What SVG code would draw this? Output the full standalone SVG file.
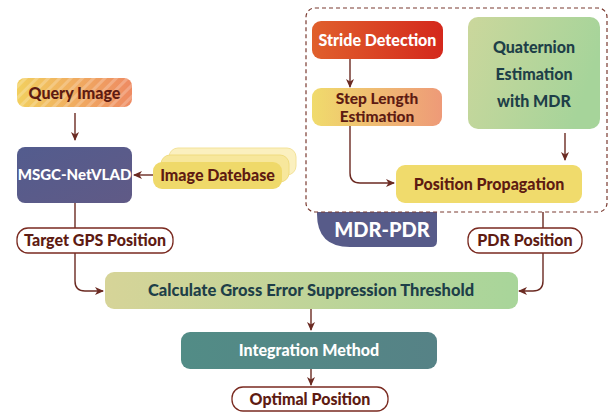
<svg xmlns="http://www.w3.org/2000/svg" width="609" height="414" viewBox="0 0 609 414">
<defs>
<style>
.t{font-family:Lato,"Liberation Sans",sans-serif;font-weight:900;text-anchor:middle;dominant-baseline:central}
.dr{fill:#5e1b12}
.wh{fill:#ffffff}
.tl{fill:#1e3f48}
.lbl{fill:#ffffff;stroke:#7a2a20;stroke-width:1.3}
.con{fill:none;stroke:#6b2a22;stroke-width:1.4;marker-end:url(#ah)}
.ln{fill:none;stroke:#6b2a22;stroke-width:1.4}
</style>
<marker id="ah" markerWidth="10" markerHeight="10" refX="8" refY="5" orient="auto" markerUnits="userSpaceOnUse">
<path d="M0,1 L9,5 L0,9 L2.5,5 z" fill="#6b2a22"/>
</marker>
<linearGradient id="gQuery" x1="0" y1="0" x2="1" y2="0">
<stop offset="0" stop-color="#f2cf5e"/><stop offset="1" stop-color="#ee8a62"/>
</linearGradient>
<pattern id="stripes" width="8" height="8" patternUnits="userSpaceOnUse" patternTransform="rotate(45)">
<rect width="3" height="8" fill="#ffffff" opacity="0.22"/>
</pattern>
<linearGradient id="gMsgc" x1="0" y1="0" x2="1" y2="1">
<stop offset="0" stop-color="#535c8e"/><stop offset="1" stop-color="#605a86"/>
</linearGradient>
<linearGradient id="gStride" x1="0" y1="0" x2="1" y2="0">
<stop offset="0" stop-color="#e0602c"/><stop offset="1" stop-color="#d4281c"/>
</linearGradient>
<linearGradient id="gStep" x1="0" y1="0" x2="1" y2="0">
<stop offset="0" stop-color="#f0db6c"/><stop offset="1" stop-color="#ee9a78"/>
</linearGradient>
<linearGradient id="gQuat" x1="0" y1="0" x2="1" y2="0.3">
<stop offset="0" stop-color="#cbd79c"/><stop offset="1" stop-color="#a6d49a"/>
</linearGradient>
<linearGradient id="gCalc" x1="0" y1="0" x2="1" y2="0">
<stop offset="0" stop-color="#d6d498"/><stop offset="1" stop-color="#a8d59a"/>
</linearGradient>
<linearGradient id="gInt" x1="0" y1="0" x2="1" y2="0">
<stop offset="0" stop-color="#528c86"/><stop offset="1" stop-color="#568286"/>
</linearGradient>
</defs>
<rect width="609" height="414" fill="#ffffff"/>

<g id="mdr-pdr-group">
<path d="M317,212 H437 V241 Q437,247 431,247 H350 Q317,247 317,214 Z" fill="#575b89"/>
<rect x="306" y="8" width="301" height="204" rx="9" fill="none" stroke="#7a3a30" stroke-width="1.2" stroke-dasharray="4,3"/>
<text class="t wh" x="382" y="229" font-size="20">MDR-PDR</text>
</g>

<g id="connectors">
<path class="con" d="M75,113 V140"/>
<path class="con" d="M153,175 H134"/>
<path class="ln" d="M75,203 V228"/>
<path class="con" d="M75,253 V281 Q75,291 85,291 H103"/>
<path class="con" d="M350,59 V87"/>
<path class="con" d="M350,126 V173 Q350,183 360,183 H394"/>
<path class="con" d="M565,133 V160"/>
<path class="ln" d="M543,212 V228"/>
<path class="con" d="M543,253 V281 Q543,291 533,291 H519"/>
<path class="con" d="M311,309 V330"/>
<path class="con" d="M311,369 V385"/>
</g>

<g id="query-image">
<rect x="17" y="78" width="115" height="29" rx="8" fill="url(#gQuery)"/>
<rect x="17" y="78" width="115" height="29" rx="8" fill="url(#stripes)"/>
<text class="t dr" x="74.5" y="92" font-size="16">Query Image</text>
</g>

<g id="msgc-netvlad">
<rect x="17" y="147" width="115" height="56" rx="8" fill="url(#gMsgc)"/>
<text class="t wh" x="74.5" y="174" font-size="15">MSGC-NetVLAD</text>
</g>

<g id="image-datebase">
<rect x="169" y="148" width="127" height="27" rx="9" fill="#fbf0bf" stroke="#f3e29a" stroke-width="1"/>
<rect x="161" y="155" width="128" height="27" rx="9" fill="#f7e79c" stroke="#f0dc80" stroke-width="1"/>
<rect x="153" y="162" width="129" height="27" rx="9" fill="#efd96a"/>
<text class="t dr" x="217.5" y="174.5" font-size="16">Image Datebase</text>
</g>

<g id="target-gps">
<rect class="lbl" x="17" y="228" width="156" height="25" rx="11"/>
<text class="t dr" x="95" y="239.5" font-size="16">Target GPS Position</text>
</g>

<g id="stride-detection">
<rect x="312" y="21" width="131" height="38" rx="9" fill="url(#gStride)"/>
<text class="t wh" x="377.5" y="39" font-size="16">Stride Detection</text>
</g>

<g id="step-length">
<rect x="312" y="88" width="130" height="38" rx="9" fill="url(#gStep)"/>
<text class="t dr" x="377" y="98" font-size="15.5">Step Length</text>
<text class="t dr" x="377" y="116" font-size="15.5">Estimation</text>
</g>

<g id="quaternion">
<rect x="468" y="17" width="132" height="112" rx="10" fill="url(#gQuat)"/>
<text class="t tl" x="534" y="46" font-size="16">Quaternion</text>
<text class="t tl" x="534" y="73" font-size="16">Estimation</text>
<text class="t tl" x="534" y="100" font-size="16">with MDR</text>
</g>

<g id="position-propagation">
<rect x="396" y="165" width="186" height="38" rx="9" fill="#f0db6c"/>
<text class="t dr" x="489" y="183" font-size="16">Position Propagation</text>
</g>

<g id="pdr-position">
<rect class="lbl" x="468" y="228" width="114" height="25" rx="11"/>
<text class="t dr" x="525" y="239.5" font-size="16">PDR Position</text>
</g>

<g id="calc-threshold">
<rect x="105" y="272" width="413" height="37" rx="9" fill="url(#gCalc)"/>
<text class="t tl" x="311" y="289.5" font-size="16.5">Calculate Gross Error Suppression Threshold</text>
</g>

<g id="integration-method">
<rect x="181" y="332" width="256" height="37" rx="9" fill="url(#gInt)"/>
<text class="t wh" x="309" y="349" font-size="16">Integration Method</text>
</g>

<g id="optimal-position">
<rect class="lbl" x="232" y="387" width="156" height="24" rx="11"/>
<text class="t dr" x="310" y="398" font-size="16">Optimal Position</text>
</g>
</svg>
